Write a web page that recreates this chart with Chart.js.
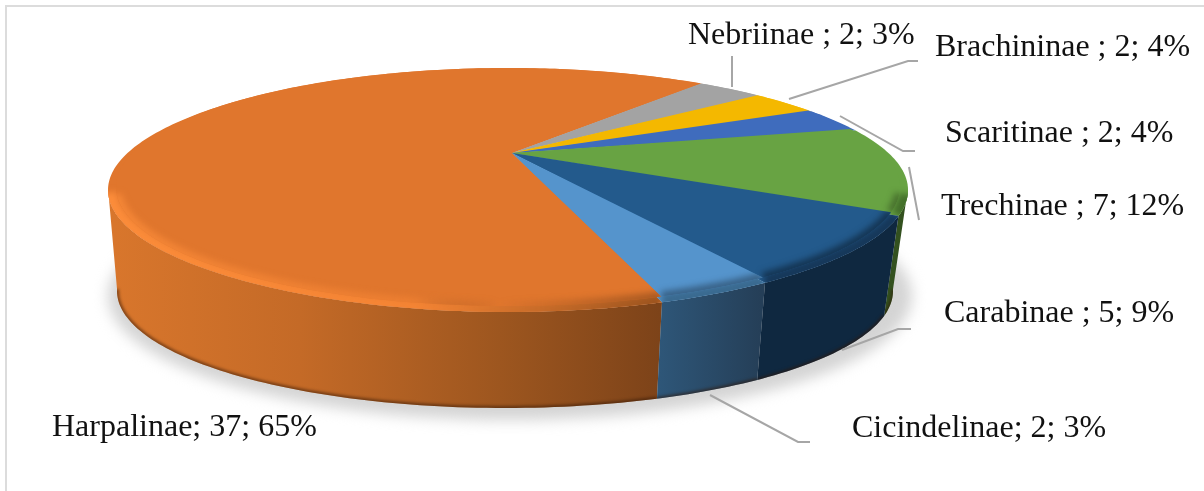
<!DOCTYPE html>
<html>
<head>
<meta charset="utf-8">
<style>
  html, body { margin: 0; padding: 0; background: #fff; overflow: hidden; }
  canvas { display: block; filter: blur(0.5px); }
</style>
<script src="https://cdn.jsdelivr.net/npm/chart.js@4"></script>
</head>
<body>
<canvas id="myChart" width="1204" height="491"></canvas>
<script>
const categories = ["Harpalinae", "Nebriinae ", "Brachininae ", "Scaritinae ", "Trechinae ", "Carabinae ", "Cicindelinae"];
const counts = [37, 2, 2, 2, 7, 5, 2];
const percents = [65, 3, 4, 4, 12, 9, 3];

const faceColors = ["#e0762d", "#a3a3a3", "#f4b800", "#3f6cbd", "#68a343", "#235a8c", "#5594cc"];
const bandColors = ["#f98a38", "#a3a3a3", "#f4b800", "#3f6cbd", "#44702b", "#16385a", "#3a6a90"];
const shadeColors = [null, null, null, null, "rgba(51,81,31,0.6)", "rgba(15,40,64,0.75)", "rgba(37,63,88,0.6)"];
const wallStops = [
  [[115, "#d8762c"], [300, "#c46a27"], [500, "#9d561f"], [660, "#7d4319"]],
  [[0, "#777777"]],
  [[0, "#9a7a00"]],
  [[0, "#27437a"]],
  [[0, "#33511f"]],
  [[0, "#0f2840"]],
  [[660, "#2e5678"], [760, "#253f58"]],
];

// where the labels and their leader lines sit
const labelPos = [[52, 436], [688, 44], [935, 56], [945, 142], [941, 215], [944, 322], [852, 437]];
const leaders = [
  [],
  [[732, 56], [732, 87]],
  [[789, 99], [908, 61], [918, 61]],
  [[840, 116], [903, 151], [915, 151]],
  [[909, 167], [912, 183], [919, 220]],
  [[842, 350], [898, 329], [911, 329]],
  [[710, 395], [798, 442], [810, 442]],
];

const apex = { x: 512, y: 153 };
const top3d = { cx: 508, cy: 187, a: 392, b: 119, bulge: 0 };
// rim ellipse touches the face at the back and widens towards the sides
const rim3d = { cx: 508, cy: 190, a: 392, b: 122, bulge: 8 };
const bottom3d = { cx: 505, cy: 291, a: 388, b: 117, bulge: 0 };
const tilt = (apex.y - top3d.cy) / top3d.b;

// perspective: the pie centre is seen above the middle of the ellipse
function edge(deg, e) {
  let t = ((deg % 360) + 360) % 360;
  t = t - 3.7 * Math.exp(-Math.pow((t - 140) / 40, 2));
  const r = (t * Math.PI) / 180;
  const x = Math.sin(r);
  const y = -Math.cos(r);
  const d = 1 + tilt * y;
  const X = (x * Math.sqrt(1 - tilt * tilt)) / d;
  const Y = (y + tilt) / d;
  return { x: e.cx + X * (e.a + e.bulge * X * X), y: e.cy + Y * e.b, Y: Y };
}

function arcPoints(start, end, e) {
  const pts = [];
  for (let d = start; d < end; d += 1) pts.push(edge(d, e));
  pts.push(edge(end, e));
  return pts;
}

function trace(ctx, pts, first) {
  pts.forEach((p, i) => {
    if (i === 0 && first) ctx.moveTo(p.x, p.y);
    else ctx.lineTo(p.x, p.y);
  });
}

function sector(ctx, pts) {
  ctx.beginPath();
  ctx.moveTo(apex.x, apex.y);
  trace(ctx, pts, false);
  ctx.closePath();
}

function sliceAngles(arc) {
  const toDeg = (v) => (v * 180) / Math.PI + 90;
  return [toDeg(arc.startAngle), toDeg(arc.endAngle)];
}

function wallFill(ctx, i) {
  const stops = wallStops[i];
  if (stops.length === 1) return stops[0][1];
  const x0 = stops[0][0];
  const x1 = stops[stops.length - 1][0];
  const g = ctx.createLinearGradient(x0, 0, x1, 0);
  stops.forEach((s) => g.addColorStop((s[0] - x0) / (x1 - x0), s[1]));
  return g;
}

const pie3d = {
  id: "pie3d",
  beforeDraw(chart) {
    const ctx = chart.ctx;
    ctx.save();
    ctx.fillStyle = "#fff";
    ctx.fillRect(0, 0, chart.width, chart.height);
    ctx.fillStyle = "#dcdcdc";
    ctx.fillRect(5, 5, chart.width - 5, 2);
    ctx.fillRect(5, 5, 2, chart.height - 5);
    ctx.restore();
  },
  beforeDatasetDraw(chart, args) {
    const ctx = chart.ctx;
    const arcs = chart.getDatasetMeta(args.index).data;

    // shadow on the floor
    ctx.save();
    ctx.filter = "blur(7px)";
    ctx.fillStyle = "#d4d4d4";
    ctx.beginPath();
    ctx.ellipse(510, 296, 402, 124, 0, 0, Math.PI * 2);
    ctx.fill();
    ctx.restore();

    // side walls, only the part facing us
    arcs.forEach((arc, i) => {
      const [s, e] = sliceAngles(arc);
      const upperAll = arcPoints(s, e, rim3d);
      const lowerAll = arcPoints(s, e, bottom3d);
      const upper = upperAll.filter((p) => p.Y >= -0.03);
      const lower = lowerAll.filter((p, k) => upperAll[k].Y >= -0.03);
      if (!upper.length) return;
      ctx.save();
      ctx.beginPath();
      trace(ctx, upper, true);
      trace(ctx, lower.slice().reverse(), false);
      ctx.closePath();
      ctx.fillStyle = wallFill(ctx, i);
      ctx.fill();
      ctx.clip();
      ctx.filter = "blur(1.5px)";
      ctx.strokeStyle = "rgba(50,22,5,0.55)";
      ctx.lineWidth = 4;
      ctx.beginPath();
      trace(ctx, lower, true);
      ctx.stroke();
      ctx.restore();
    });

    // rounded rim between wall and top face
    arcs.forEach((arc, i) => {
      const [s, e] = sliceAngles(arc);
      const outer = arcPoints(s, e, rim3d);
      ctx.save();
      sector(ctx, outer);
      ctx.fillStyle = faceColors[i];
      ctx.fill();
      ctx.clip();
      const front = outer.filter((p) => p.Y >= 0.02);
      if (front.length) {
        let stroke = bandColors[i];
        if (i === 0) {
          const g = ctx.createLinearGradient(110, 0, 665, 0);
          g.addColorStop(0, "#fb8c3a");
          g.addColorStop(0.55, "#f48434");
          g.addColorStop(1, "#9a531e");
          stroke = g;
        }
        ctx.filter = "blur(3px)";
        ctx.strokeStyle = stroke;
        ctx.lineWidth = 18;
        ctx.beginPath();
        trace(ctx, front, true);
        ctx.stroke();
      }
      ctx.restore();
    });

    // top face
    arcs.forEach((arc, i) => {
      const [s, e] = sliceAngles(arc);
      const pts = arcPoints(s, e, top3d);
      ctx.save();
      sector(ctx, pts);
      ctx.fillStyle = faceColors[i];
      ctx.fill();
      ctx.clip();
      // soft fade of the face into the rim
      let shade = shadeColors[i];
      if (i === 0) {
        const g = ctx.createLinearGradient(110, 0, 665, 0);
        g.addColorStop(0, "rgba(251,140,58,0.75)");
        g.addColorStop(0.55, "rgba(244,132,52,0.6)");
        g.addColorStop(0.7, "rgba(125,67,25,0)");
        g.addColorStop(1, "rgba(125,67,25,0.6)");
        shade = g;
      }
      if (shade) {
        ctx.filter = "blur(3px)";
        ctx.strokeStyle = shade;
        ctx.lineWidth = 10;
        ctx.beginPath();
        trace(ctx, pts.filter((p) => p.Y >= 0.05), true);
        ctx.stroke();
      }
      ctx.restore();
    });
    return false;
  },
  afterDraw(chart) {
    const ctx = chart.ctx;
    ctx.save();
    ctx.strokeStyle = "#a6a6a6";
    ctx.lineWidth = 2;
    leaders.forEach((line) => {
      if (!line.length) return;
      ctx.beginPath();
      line.forEach((p, i) => (i ? ctx.lineTo(p[0], p[1]) : ctx.moveTo(p[0], p[1])));
      ctx.stroke();
    });
    ctx.fillStyle = "#111";
    ctx.font = '32px "Liberation Serif"';
    ctx.textBaseline = "alphabetic";
    categories.forEach((name, i) => {
      ctx.fillText(name + "; " + counts[i] + "; " + percents[i] + "%", labelPos[i][0], labelPos[i][1]);
    });
    ctx.restore();
  },
};

new Chart(document.getElementById("myChart").getContext("2d"), {
  type: "pie",
  data: {
    labels: categories,
    datasets: [{ data: counts, backgroundColor: faceColors, borderWidth: 0 }],
  },
  options: {
    responsive: false,
    animation: false,
    devicePixelRatio: 1,
    rotation: 165.2,
    plugins: { legend: { display: false }, tooltip: { enabled: false } },
  },
  plugins: [pie3d],
});
</script>
</body>
</html>
